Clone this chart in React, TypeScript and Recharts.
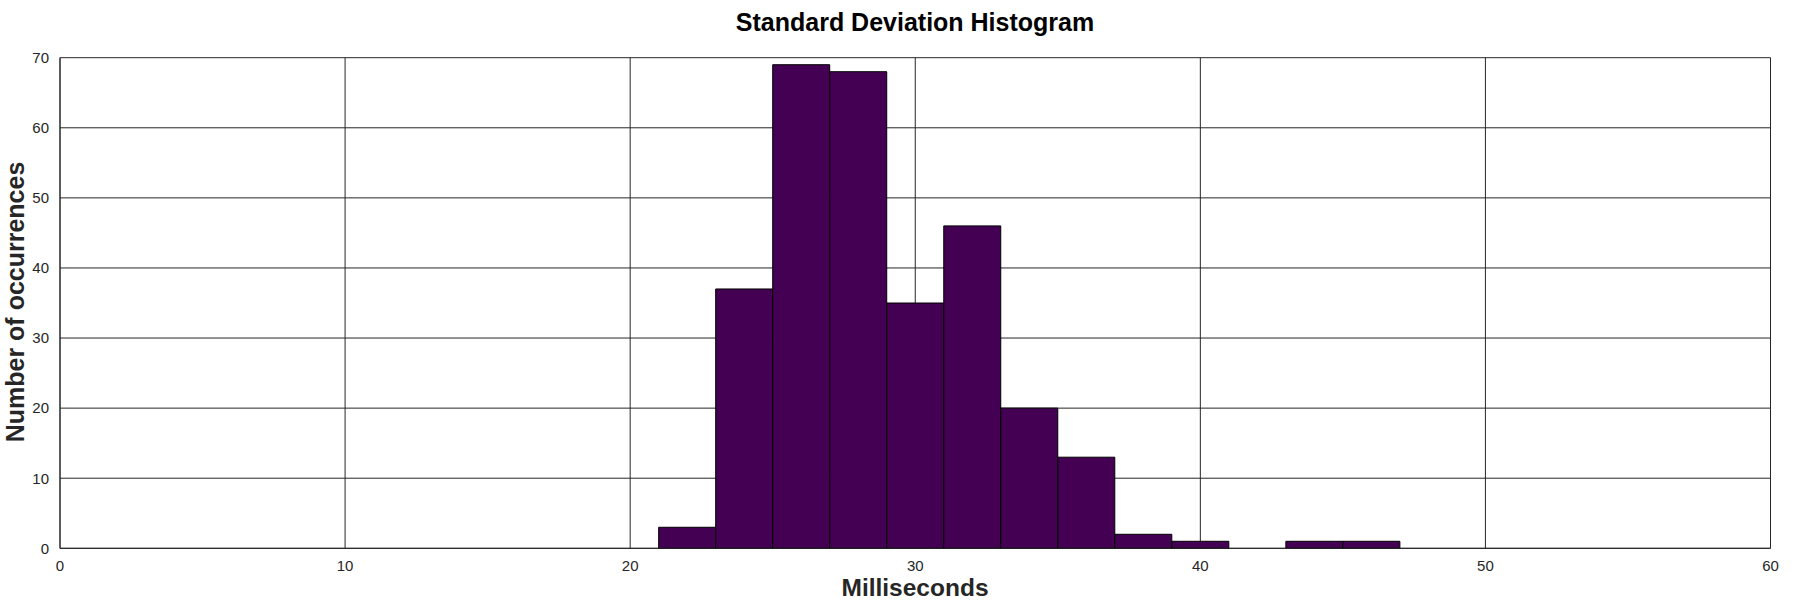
import React from 'react';
import { BarChart, Bar, XAxis, YAxis, CartesianGrid, Customized } from 'recharts';

const binCenters = [22, 24, 26, 28, 30, 32, 34, 36, 38, 40, 42, 44, 46];
const counts = [3, 37, 69, 68, 35, 46, 20, 13, 2, 1, 0, 1, 1];
const xTicks = [0, 10, 20, 30, 40, 50, 60];
const yTicks = [0, 10, 20, 30, 40, 50, 60, 70];

const data = binCenters.map((c, i) => ({ center: c, count: counts[i] }));

const FONT = '"Liberation Sans", Arial, Helvetica, sans-serif';
const TXT = '#262626';

const Titles = () => (
  <g>
    <text x={915} y={31} textAnchor="middle" fontFamily={FONT} fontSize={25} fontWeight="bold" fill="#000">
      Standard Deviation Histogram
    </text>
    <text x={915} y={596} textAnchor="middle" fontFamily={FONT} fontSize={24.5} fontWeight="bold" fill={TXT}>
      Milliseconds
    </text>
    <text x={24} y={302} textAnchor="middle" fontFamily={FONT} fontSize={25} fontWeight="bold" fill={TXT}
      transform="rotate(-90, 24, 302)">
      Number of occurrences
    </text>
  </g>
);

export default function App() {
  return (
    <div style={{ position: 'absolute', left: 0, top: 0, width: 1800, height: 600, background: '#fff', overflow: 'hidden' }}>
      <BarChart
        width={1800}
        height={600}
        data={data}
        margin={{ top: 57.7, right: 29.5, left: 0, bottom: 11.7 }}
        barCategoryGap={0}
        barGap={0}
      >
        <CartesianGrid stroke={TXT} strokeOpacity={1} />
        <XAxis
          dataKey="center"
          type="number"
          domain={[0, 60]}
          ticks={xTicks}
          height={40}
          tickLine={false}
          tickSize={0}
          tickMargin={12}
          axisLine={{ stroke: TXT }}
          tick={{ fill: TXT, fontSize: 15, fontFamily: FONT }}
          interval={0}
        />
        <YAxis
          type="number"
          domain={[0, 70]}
          ticks={yTicks}
          width={60}
          tickLine={false}
          tickSize={0}
          tickMargin={11}
          axisLine={{ stroke: TXT }}
          tick={{ fill: TXT, fontSize: 15, fontFamily: FONT }}
          interval={0}
        />
        <Bar dataKey="count" fill="#440154" stroke="#000" strokeWidth={1} isAnimationActive={false} />
        <Customized component={Titles} />
      </BarChart>
    </div>
  );
}
